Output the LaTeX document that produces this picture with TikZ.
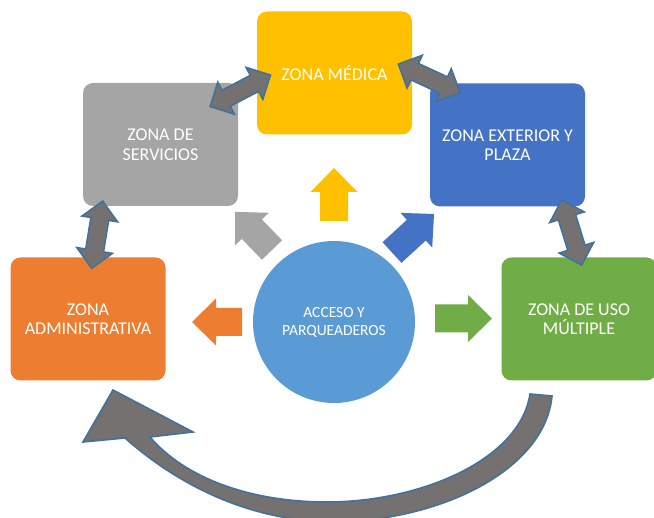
\documentclass[tikz,border=0pt]{standalone}
\usepackage{fontspec}
\setmainfont{Carlito}
\definecolor{cyel}{HTML}{FFC000}
\definecolor{cgry}{HTML}{A5A5A5}
\definecolor{cblu}{HTML}{4472C4}
\definecolor{corg}{HTML}{ED7D31}
\definecolor{cgrn}{HTML}{70AD47}
\definecolor{ccir}{HTML}{5B9BD5}
\definecolor{cdark}{HTML}{767171}
\definecolor{cedge}{HTML}{41719C}
% single block arrow: tail point, angle, length, colour
\newcommand{\SArr}[4]{\fill[#4, shift={(#1)}, rotate=#2]
  (0,-14) -- ({#3-24},-14) -- ({#3-24},-23.5) -- (#3,0) -- ({#3-24},23.5) -- ({#3-24},14) -- (0,14) -- cycle;}
% double block arrow: centre, angle
\newcommand{\DArr}[2]{\filldraw[dblarr, shift={(#1)}, rotate=#2]
  (-34,0) -- (-16,-18) -- (-16,-9) -- (16,-9) -- (16,-18) -- (34,0) -- (16,18) -- (16,9) -- (-16,9) -- (-16,18) -- cycle;}
\begin{document}
\begin{tikzpicture}[x=1pt,y=-1pt,
  zbox/.style={rounded corners=10pt, minimum width=155pt, minimum height=123pt,
    text=white, font=\fontsize{18}{19.5}\selectfont, align=center, inner sep=0pt},
  dblarr/.style={fill=cdark, draw=cedge, line width=1.6pt, line join=miter}]
\useasboundingbox (0,0) rectangle (654,518);
\clip (0,0) rectangle (654,518);

% boxes
\node[zbox, fill=cyel] (med) at (334.5,73) {ZONA MÉDICA};
\node[zbox, fill=cgry] (ser) at (160.5,144.5) {ZONA DE\\SERVICIOS};
\node[zbox, fill=cblu] (ext) at (507.5,145) {ZONA EXTERIOR Y\\PLAZA};
\node[zbox, fill=corg] (adm) at (88,319) {ZONA\\ADMINISTRATIVA};
\node[zbox, fill=cgrn] (mul) at (579,319) {ZONA DE USO\\MÚLTIPLE};

% centre circle
\node[circle, fill=ccir, minimum size=162pt, inner sep=0pt, text=white, align=center,
  font=\fontsize{15.5}{18}\selectfont] (acc) at (334,322) {ACCESO Y\\PARQUEADEROS};

% small block arrows
\SArr{334,221}{90}{53}{cyel}
\SArr{242,322}{180}{50}{corg}
\SArr{435,318.5}{0}{57}{cgrn}
\SArr{272,250}{134}{53}{cgry}
\SArr{392,252.5}{42.5}{57}{cblu}

% double arrows between zones
\DArr{240.3,90.8}{27.6}
\DArr{429.2,78.4}{-24.9}
\DArr{97.2,234.7}{80.7}
\DArr{571.7,232.5}{-72.9}

% big curved return arrow
\filldraw[dblarr] (552,396) .. controls (545,470) and (440,522) .. (330,522)
  .. controls (240,520) and (170,478) .. (125,438) -- (83,442) -- (113,390)
  -- (193,432) -- (150,437) .. controls (185,478) and (250,502) .. (327,502)
  .. controls (420,502) and (520,460) .. (530,394) -- cycle;
\end{tikzpicture}
\end{document}
